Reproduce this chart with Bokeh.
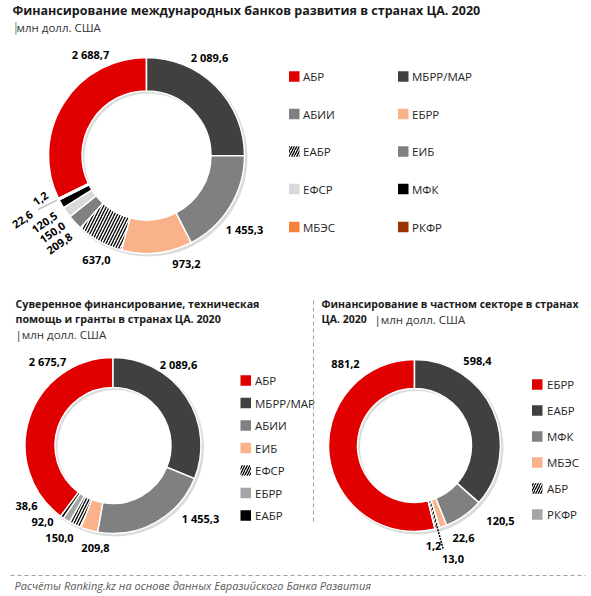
import math
from bokeh.plotting import figure
from bokeh.models import Range1d, ColumnDataSource
from bokeh.core.properties import value
from bokeh.embed import file_html
from bokeh.resources import INLINE

# ---------------- data ----------------
all_banks = ["АБР", "МБРР/МАР", "АБИИ", "ЕБРР", "ЕАБР", "ЕИБ", "ЕФСР", "МФК", "МБЭС", "РКФР"]
all_values = [2688.7, 2089.6, 1455.3, 973.2, 637.0, 209.8, 150.0, 120.5, 22.6, 1.2]

sov_banks = ["АБР", "МБРР/МАР", "АБИИ", "ЕИБ", "ЕФСР", "ЕБРР", "ЕАБР"]
sov_values = [2675.7, 2089.6, 1455.3, 209.8, 150.0, 92.0, 38.6]

priv_banks = ["ЕБРР", "ЕАБР", "МФК", "МБЭС", "АБР", "РКФР"]
priv_values = [881.2, 598.4, 120.5, 22.6, 13.0, 1.2]

title_all = "Финансирование международных банков развития  в странах ЦА. 2020"
title_sov = ["Суверенное финансирование,  техническая", "помощь  и гранты в странах ЦА. 2020"]
title_priv = ["Финансирование  в частном  секторе в странах", "ЦА. 2020"]
unit_text = "млн долл. США"
source_text = "Расчёты Ranking.kz на основе данных Евразийского Банка Развития"

# ---------------- styles / layout ----------------
RED, DARK, GREY, PEACH = "#E00000", "#404040", "#808080", "#F9B28A"
LGREY, MGREY, BLACK, ORANGE, BROWN = "#D9D9D9", "#A6A6A6", "#000000", "#F5823A", "#993300"
HATCH = "hatch"
colors_all = [RED, DARK, GREY, PEACH, HATCH, GREY, LGREY, BLACK, ORANGE, BROWN]
colors_sov = [RED, DARK, GREY, PEACH, HATCH, MGREY, BLACK]
colors_priv = [RED, DARK, GREY, PEACH, HATCH, MGREY]

FONT = value("Open Sans")
W, H = 591, 596


def Y(sy):
    return H - sy


p = figure(width=W, height=H, x_range=Range1d(0, W), y_range=Range1d(0, H),
           output_backend="svg", toolbar_location=None, min_border=0,
           x_axis_type=None, y_axis_type=None)
p.grid.visible = False
p.outline_line_color = None
p.background_fill_color = "white"
p.border_fill_color = "white"


def txt(x, y, s, size="11px", style="normal", color="#000000", align="left", angle=0.0):
    p.text(x=[x], y=[Y(y)], text=[s], text_font=FONT, text_font_size=size,
           text_font_style=style, text_color=color, text_align=align,
           text_baseline="middle", angle=angle)


def fmt(v):
    return f"{v:,.1f}".replace(",", " ").replace(".", ",")


def donut(cx, cy, r_in, r_out, values, colors, label_off, label_rot=None):
    total = sum(values)
    order = list(range(1, len(values))) + [0]
    frac0, frac1 = [0.0] * len(values), [0.0] * len(values)
    f = 0.0
    for i in order:
        frac0[i] = f
        f += values[i] / total
        frac1[i] = f
    # soft shadow
    p.annulus(x=[cx + 2], y=[Y(cy) - 2], inner_radius=r_in - 0.5, outer_radius=r_out + 1,
              fill_color="#606060", fill_alpha=0.22, line_color=None)
    sa = [math.pi / 2 - 2 * math.pi * frac1[i] for i in range(len(values))]
    ea = [math.pi / 2 - 2 * math.pi * frac0[i] for i in range(len(values))]
    plain = [i for i in range(len(values)) if colors[i] != HATCH]
    hatched = [i for i in range(len(values)) if colors[i] == HATCH]
    src = ColumnDataSource(dict(x=[cx] * len(plain), y=[Y(cy)] * len(plain),
                                s=[sa[i] for i in plain], e=[ea[i] for i in plain],
                                c=[colors[i] for i in plain]))
    p.annular_wedge(x="x", y="y", inner_radius=r_in, outer_radius=r_out,
                    start_angle="s", end_angle="e", fill_color="c",
                    line_color="white", line_width=1.5, source=src)
    if hatched:
        hs = ColumnDataSource(dict(x=[cx] * len(hatched), y=[Y(cy)] * len(hatched),
                                   s=[sa[i] for i in hatched], e=[ea[i] for i in hatched]))
        p.annular_wedge(x="x", y="y", inner_radius=r_in, outer_radius=r_out,
                        start_angle="s", end_angle="e", fill_color="white",
                        hatch_pattern="/", hatch_color="black", hatch_scale=6,
                        hatch_weight=1.3, line_color="white", line_width=1.5, source=hs)
    for i, v in enumerate(values):
        dx, dy = label_off[i]
        ang = (label_rot[i] if label_rot else 0.0)
        txt(cx + dx, cy + dy, fmt(v), size="11px", style="bold", align="center",
            angle=math.radians(ang))
    return frac0, frac1


def legend_square(x, y, color, size=10.5):
    if color == HATCH:
        p.rect(x=[x + size / 2], y=[Y(y)], width=size, height=size, fill_color="white",
               hatch_pattern="/", hatch_color="black", hatch_scale=5, hatch_weight=1.3,
               line_color=None)
    else:
        p.rect(x=[x + size / 2], y=[Y(y)], width=size, height=size, fill_color=color,
               line_color=None)


# ---------------- chart 1 ----------------
txt(12, 10, title_all, size="12.5px", style="bold", color="#1a1a1a")
txt(12, 27, "|", size="12px", color="#3E8E7E")
txt(16, 27, unit_text, size="11.5px", color="#333333")

c1 = (146, 155)
off1 = [(-56, -101), (63, -98), (98, 74), (40, 108), (-50, 104),
        (-87, 88), (-94, 77), (-102, 67), (-124, 64), (-106, 43)]
rot1 = [0, 0, 0, 0, 0, 35, 35, 35, 35, 35]
f0, f1 = donut(c1[0], c1[1], 64.5, 98, all_values, colors_all, off1, rot1)
# leader line for the smallest slices
mid = (f0[8] + f1[8]) / 2 * 2 * math.pi
p.line(x=[c1[0] + r * math.sin(mid) for r in (100, 121)],
       y=[Y(c1[1]) + r * math.cos(mid) for r in (100, 121)],
       line_color="#BFBFBF", line_width=1.5)

leg1_cols = [288.5, 397.5]
leg1_rows = [76, 113.5, 151, 188.5, 226.5]
for k, name in enumerate(all_banks):
    lx = leg1_cols[k % 2]
    ly = leg1_rows[k // 2]
    legend_square(lx, ly, colors_all[k])
    txt(lx + 14, ly, name, size="11.5px", color="#262626")

# ---------------- chart 2 ----------------
txt(15, 303, title_sov[0], size="10.7px", style="bold", color="#1a1a1a")
txt(15, 318.5, title_sov[1], size="10.7px", style="bold", color="#1a1a1a")
txt(15, 334, "|" + unit_text, size="11.5px", color="#333333")

c2 = (112.5, 445)
off2 = [(-65.5, -84), (65.5, -81), (87.5, 73), (-17.5, 102), (-53.5, 92), (-70.5, 76), (-86.5, 60)]
donut(c2[0], c2[1], 58, 88, sov_values, colors_sov, off2)
for k, name in enumerate(sov_banks):
    ly = 380 + 22.5 * k
    legend_square(240, ly, colors_sov[k])
    txt(254.5, ly, name, size="11.5px", color="#262626")

# ---------------- chart 3 ----------------
txt(321, 303, title_priv[0], size="10.5px", style="bold", color="#1a1a1a")
txt(321, 318.5, title_priv[1], size="10.5px", style="bold", color="#1a1a1a")
txt(374, 318.5, "|" + unit_text, size="11.5px", color="#333333")

c3 = (414, 445)
off3 = [(-69, -82), (63, -85), (86, 75), (49, 92.5), (38.5, 113), (19, 100)]
g0, g1 = donut(c3[0], c3[1], 57, 86, priv_values, colors_priv, off3)
mid3 = (g0[4] + g1[4]) / 2 * 2 * math.pi
p.line(x=[c3[0] + r * math.sin(mid3) for r in (84, 108)],
       y=[Y(c3[1]) + r * math.cos(mid3) for r in (84, 108)],
       line_color="black", line_width=1.5, line_dash="2 1")
for k, name in enumerate(priv_banks):
    ly = 384 + 26 * k
    legend_square(531.5, ly, colors_priv[k])
    txt(546.5, ly, name, size="11.5px", color="#262626")

# ---------------- separators & footer ----------------
p.line(x=[313, 313], y=[Y(300), Y(523)], line_color="#A0A0A0", line_width=1, line_dash="4 3")
p.line(x=[10, 585], y=[Y(575), Y(575)], line_color="#A0A0A0", line_width=1, line_dash="4 3")
txt(14, 585, source_text, size="11px", style="italic", color="#595959")

open("out.html", "w").write(file_html(p, INLINE))
